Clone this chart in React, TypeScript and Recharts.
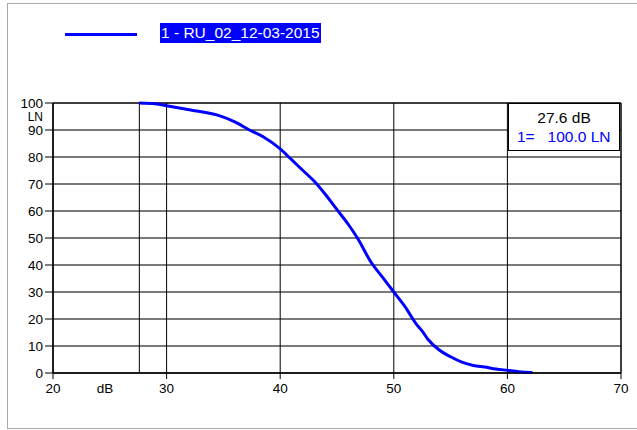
import React from 'react';
import {
  LineChart,
  Line,
  XAxis,
  YAxis,
  CartesianGrid,
  ReferenceLine,
  ReferenceArea,
} from 'recharts';

// cumulative level distribution (dB -> LN %)
const levelDb = [
  27.6, 29, 30, 32, 34.5, 36, 37.3, 38.5, 40, 41, 42, 43, 44, 45, 46, 46.8, 48, 49,
  50, 51, 52, 52.5, 53, 54, 55, 56, 57, 58, 59, 60, 61, 62.2,
];
const lnPercent = [
  100, 99.7, 99, 97.5, 95.5, 93, 90, 87.5, 83, 79, 75, 71, 66, 60.5, 55, 50, 41, 35.5,
  30, 24.5, 18, 15.5, 12.5, 8.5, 6, 4, 2.8, 2.2, 1.5, 1, 0.5, 0.2,
];
const xTicks = [20, 30, 40, 50, 60, 70];
const yTicks = [0, 10, 20, 30, 40, 50, 60, 70, 80, 90, 100];
const seriesName = '1 - RU_02_12-03-2015';
const cursorDb = 27.6;
const cursorLn = 100.0;

const data = levelDb.map((db, i) => ({ db, ln: lnPercent[i] }));

const FONT = '"Liberation Sans", Arial, sans-serif';

const XTick = (props: any) => {
  const { x, y, payload } = props;
  return (
    <g>
      <text x={x} y={y} dy={11} textAnchor="middle" fontSize={13.5} fill="#000" fontFamily={FONT}>
        {payload.value}
      </text>
      {payload.value === 20 && (
        <text x={x + 52} y={y} dy={11} textAnchor="middle" fontSize={13.5} fill="#000" fontFamily={FONT}>
          dB
        </text>
      )}
    </g>
  );
};

const YTick = (props: any) => {
  const { x, y, payload } = props;
  return (
    <g>
      <text x={x} y={y} dy={5} textAnchor="end" fontSize={13.5} fill="#000" fontFamily={FONT}>
        {payload.value}
      </text>
      {payload.value === 100 && (
        <text x={x} y={y + 12.5} dy={5} textAnchor="end" fontSize={12} fill="#000" fontFamily={FONT}>
          LN
        </text>
      )}
    </g>
  );
};

export default function App() {
  return (
    <div style={{ position: 'absolute', left: 0, top: 0, width: 637, height: 430, background: '#fff', overflow: 'hidden', fontFamily: FONT }}>
      <div style={{ position: 'absolute', left: 7, top: 3, width: 640, height: 424, border: '1px solid #a8a8a8' }} />

      {/* legend */}
      <div style={{ position: 'absolute', left: 65, top: 33, width: 72, height: 3, background: '#0000ff' }} />
      <div style={{ position: 'absolute', left: 160, top: 23, height: 20, lineHeight: '20px', padding: '0 1px', background: '#0000ff', color: '#fff', fontSize: 15.5 }}>
        {seriesName}
      </div>

      <LineChart width={637} height={430} data={data} margin={{ top: 103, right: 16, bottom: 0, left: 0 }}>
        <CartesianGrid vertical={false} stroke="#7a7a7a" strokeWidth={2} />
        <CartesianGrid horizontal={false} stroke="#000" strokeWidth={1} />
        <XAxis
          dataKey="db"
          type="number"
          domain={[20, 70]}
          ticks={xTicks}
          height={57}
          tickSize={6}
          tickMargin={3}
          axisLine={{ stroke: '#000' }}
          tickLine={{ stroke: '#000' }}
          tick={<XTick />}
        />
        <YAxis
          dataKey="ln"
          type="number"
          domain={[0, 100]}
          ticks={yTicks}
          width={53}
          tickSize={8}
          tickMargin={2}
          axisLine={{ stroke: '#000' }}
          tickLine={{ stroke: '#000' }}
          tick={<YTick />}
        />
        <ReferenceArea x1={20} x2={70} y1={0} y2={100} fill="none" stroke="#000" strokeWidth={1} />
        <ReferenceLine x={cursorDb} stroke="#000" strokeWidth={1} />
        <Line
          type="monotone"
          dataKey="ln"
          stroke="#0000ff"
          strokeWidth={3}
          dot={false}
          isAnimationActive={false}
        />
      </LineChart>

      {/* cursor readout */}
      <div style={{ position: 'absolute', left: 508, top: 103, width: 110, height: 46, border: '1px solid #000', background: '#fff', fontSize: 15.5 }}>
        <div style={{ position: 'absolute', left: 0, width: 110, top: 5, textAlign: 'center', color: '#000' }}>
          {cursorDb.toFixed(1)} dB
        </div>
        <div style={{ position: 'absolute', left: 8, top: 24, color: '#0000ff', whiteSpace: 'pre' }}>
          {'1=   ' + cursorLn.toFixed(1) + ' LN'}
        </div>
      </div>
    </div>
  );
}
